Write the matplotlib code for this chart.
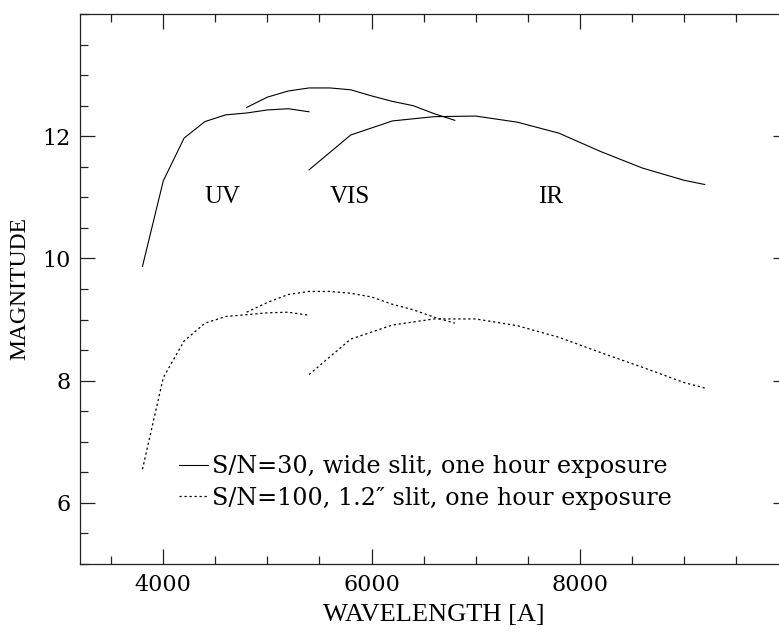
import matplotlib
matplotlib.use("Agg")
import matplotlib.pyplot as plt
from matplotlib.ticker import MultipleLocator, FixedLocator

# ---- data ----
uv_wave = [3800, 4000, 4200, 4400, 4600, 4800, 5000, 5200, 5400]
uv_sn30 = [9.87, 11.27, 11.97, 12.24, 12.35, 12.38, 12.43, 12.45, 12.40]
uv_sn100 = [6.55, 8.05, 8.65, 8.94, 9.05, 9.08, 9.11, 9.12, 9.07]

vis_wave = [4800, 5000, 5200, 5400, 5600, 5800, 6000, 6200, 6400, 6600, 6800]
vis_sn30 = [12.47, 12.64, 12.74, 12.79, 12.79, 12.76, 12.66, 12.57, 12.50, 12.37, 12.26]
vis_sn100 = [9.12, 9.28, 9.41, 9.46, 9.46, 9.43, 9.37, 9.25, 9.16, 9.04, 8.94]

ir_wave = [5400, 5800, 6200, 6600, 7000, 7400, 7800, 8200, 8600, 9000, 9200]
ir_sn30 = [11.45, 12.02, 12.25, 12.32, 12.33, 12.23, 12.05, 11.75, 11.48, 11.28, 11.21]
ir_sn100 = [8.10, 8.68, 8.91, 9.01, 9.01, 8.90, 8.71, 8.46, 8.22, 7.97, 7.88]

x_ticks = [4000, 6000, 8000]
y_ticks = [6, 8, 10, 12]

arm_names = ["UV", "VIS", "IR"]
arm_label_x = [4400, 5600, 7600]
arm_label_y = 10.9

legend_labels = ["S/N=30, wide slit, one hour exposure",
                 "S/N=100, 1.2\u2033 slit, one hour exposure"]

x_label = "WAVELENGTH [A]"
y_label = "MAGNITUDE"

# ---- figure ----
fig = plt.figure(figsize=(7.79, 6.40), dpi=100)
ax = fig.add_axes([80 / 779, 76 / 640, 708 / 779, 550 / 640])

solid_kw = dict(color="black", lw=0.8, ls="-")
dot_kw = dict(color="black", lw=0.9, ls=(0, (1.8, 2.2)))

h1 = None
h2 = None
for w, s30, s100 in [(uv_wave, uv_sn30, uv_sn100),
                     (vis_wave, vis_sn30, vis_sn100),
                     (ir_wave, ir_sn30, ir_sn100)]:
    h1, = ax.plot(w, s30, **solid_kw)
    h2, = ax.plot(w, s100, **dot_kw)

for name, xx in zip(arm_names, arm_label_x):
    ax.text(xx, arm_label_y, name, ha="left", va="baseline",
            family="Liberation Serif", fontsize=18)

ax.set_xlim(3200, 10000)
ax.set_ylim(5, 14)
ax.xaxis.set_major_locator(FixedLocator(x_ticks))
ax.xaxis.set_minor_locator(MultipleLocator(500))
ax.yaxis.set_major_locator(FixedLocator(y_ticks))
ax.yaxis.set_minor_locator(MultipleLocator(0.5))
ax.tick_params(which="both", direction="in", top=True, right=True, color="#222222", width=0.9)
ax.tick_params(which="major", length=11)
ax.tick_params(which="minor", length=5.5)
ax.tick_params(axis="x", which="major", pad=7)
ax.tick_params(axis="y", which="major", pad=7)
for lab in ax.get_xticklabels() + ax.get_yticklabels():
    lab.set_family("DejaVu Serif")
    lab.set_fontsize(16)
for sp in ax.spines.values():
    sp.set_linewidth(0.9)
    sp.set_color("#222222")

ax.set_xlabel(x_label, family="Liberation Serif", fontsize=19, labelpad=6)
ax.set_ylabel(y_label, family="Liberation Serif", fontsize=17, labelpad=8)

leg = ax.legend([h1, h2], legend_labels, loc="center left",
                bbox_to_anchor=(99 / 708, 0.148), frameon=False,
                borderpad=0, borderaxespad=0, handlelength=1.2,
                handletextpad=0.2, labelspacing=0.35,
                prop=dict(family="DejaVu Serif", size=17.2))

fig.savefig("out.png", dpi=100)
